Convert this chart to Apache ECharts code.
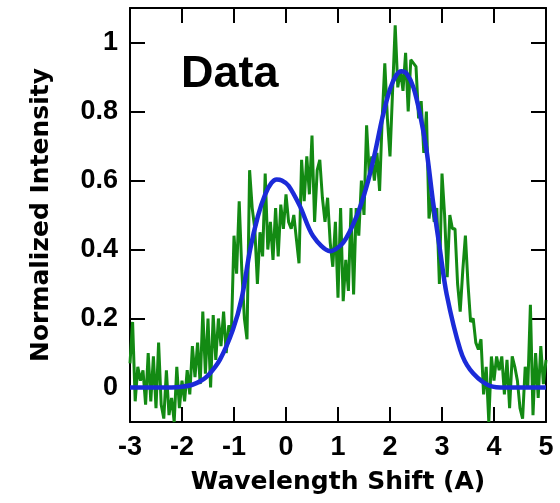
<!DOCTYPE html>
<html>
<head>
<meta charset="utf-8">
<script src="https://cdn.jsdelivr.net/npm/echarts@6/dist/echarts.min.js"></script>
<style>
  html, body { margin: 0; padding: 0; background: #fff; }
  #chart { width: 560px; height: 503px; }
</style>
</head>
<body>
<div id="chart"></div>
<script>
// measured spectrum, sampled every 0.05 A from -3
var greenStart = -3;
var greenStep = 0.05;
var greenValues = [
  0.07, 0.19, -0.04, 0.06, 0.02, 0.05, -0.05, 0.10, -0.04, 0.09,
  -0.06, 0.13, -0.05, -0.09, 0.05, -0.08, -0.03, -0.10, 0.06, -0.06,
  0.02, -0.04, 0.05, -0.02, 0.12, 0.03, 0.13, 0.01, 0.22, 0.04,
  0.20, 0.00, 0.21, 0.08, 0.20, 0.12, 0.22, 0.10, 0.18, 0.16,
  0.44, 0.33, 0.54, 0.34, 0.20, 0.14, 0.63, 0.52, 0.46, 0.30,
  0.45, 0.38, 0.62, 0.40, 0.48, 0.37, 0.52, 0.38, 0.53, 0.46,
  0.56, 0.48, 0.46, 0.50, 0.43, 0.36, 0.66, 0.54, 0.67, 0.56,
  0.73, 0.48, 0.63, 0.66, 0.55, 0.48, 0.55, 0.42, 0.35, 0.48,
  0.26, 0.52, 0.25, 0.37, 0.28, 0.52, 0.27, 0.52, 0.44, 0.60,
  0.50, 0.76, 0.62, 0.67, 0.60, 0.68, 0.57, 0.78, 0.94, 0.78,
  0.67, 0.86, 1.05, 0.87, 0.92, 0.86, 0.97, 0.80, 0.95, 0.94,
  0.93, 0.78, 0.83, 0.68, 0.80, 0.49, 0.55, 0.48, 0.52, 0.30,
  0.62, 0.50, 0.32, 0.50, 0.46, 0.46, 0.30, 0.22, 0.34, 0.44,
  0.30, 0.19, 0.20, 0.13, 0.11, 0.14, -0.02, 0.06, -0.10, 0.09,
  0.02, 0.09, 0.05, 0.09, -0.02, 0.08, -0.06, 0.09, 0.06, 0.02,
  -0.06, -0.09, 0.06, 0.00, 0.24, -0.08, 0.10, -0.03, 0.12, 0.01,
  0.08
];

// fitted curve
var fitX = [-3, -2.5, -2.2, -2.0, -1.8, -1.65, -1.5, -1.27, -1.02, -0.85,
  -0.69, -0.54, -0.4, -0.28, -0.18, -0.08, 0.05, 0.27, 0.52, 0.85,
  1.10, 1.36, 1.55, 1.71, 1.85, 2.0, 2.12, 2.22, 2.32, 2.45,
  2.58, 2.7, 2.83, 2.96, 3.09, 3.35, 3.54, 3.86, 4.12, 5];
var fitY = [0, 0, 0, 0.002, 0.008, 0.018, 0.035, 0.081, 0.168, 0.26,
  0.40, 0.497, 0.56, 0.593, 0.603, 0.6, 0.585, 0.525, 0.439, 0.395,
  0.42, 0.497, 0.583, 0.68, 0.78, 0.865, 0.905, 0.917, 0.91, 0.87,
  0.79, 0.69, 0.535, 0.40, 0.27, 0.11, 0.052, 0.009, 0, 0];

var yTickValues = [0, 0.2, 0.4, 0.6, 0.8, 1];
var xMin = -3, xMax = 5;
var yMin = -0.1, yMax = 1.1;

var greenData = greenValues.map(function (v, i) {
  return [greenStart + i * greenStep, v];
});
var fitData = fitX.map(function (x, i) { return [x, fitY[i]]; });

var labelFont = { fontFamily: 'Liberation Sans', fontWeight: 'bold', fontSize: 27, color: '#000' };
var nameFont = { fontFamily: 'DejaVu Sans', fontWeight: 'bold', fontSize: 25, color: '#000' };
var tick = { show: true, inside: true, length: 15, lineStyle: { color: '#000', width: 2 } };
var line = { show: true, onZero: false, lineStyle: { color: '#000', width: 2 } };

var chart = echarts.init(document.getElementById('chart'));
chart.setOption({
  animation: false,
  grid: { left: 130, right: 14, top: 8, bottom: 81 },
  xAxis: [{
    type: 'value', min: xMin, max: xMax, interval: 1,
    axisLine: line, axisTick: tick, splitLine: { show: false },
    axisLabel: Object.assign({ margin: 12, showMaxLabel: true, showMinLabel: true }, labelFont),
    name: 'Wavelength Shift (A)', nameLocation: 'middle', nameGap: 48,
    nameTextStyle: nameFont
  }, {
    type: 'value', position: 'top', min: xMin, max: xMax, interval: 1,
    axisLine: line, axisTick: tick, axisLabel: { show: false }, splitLine: { show: false }
  }],
  yAxis: [{
    type: 'value', min: yMin, max: yMax,
    axisLine: line,
    axisTick: Object.assign({ customValues: yTickValues }, tick),
    splitLine: { show: false },
    axisLabel: Object.assign({ margin: 12, customValues: yTickValues,
      formatter: function (v) { return String(Math.round(v * 10) / 10); } }, labelFont),
    name: 'Normalized Intensity', nameLocation: 'middle', nameGap: 76,
    nameTextStyle: nameFont
  }, {
    type: 'value', position: 'right', min: yMin, max: yMax,
    axisLine: line,
    axisTick: Object.assign({ customValues: yTickValues }, tick),
    axisLabel: { show: false }, splitLine: { show: false }
  }],
  graphic: [{
    type: 'text', left: 181, top: 52,
    style: { text: 'Data', fill: '#000', font: 'bold 45px "Liberation Sans"' }
  }],
  series: [{
    type: 'line', data: greenData, showSymbol: false, clip: true,
    lineStyle: { color: '#138a13', width: 3 }
  }, {
    type: 'line', data: fitData, showSymbol: false, smooth: 0.3, clip: true,
    lineStyle: { color: '#1b2bd8', width: 4.5 }
  }]
});
</script>
</body>
</html>
